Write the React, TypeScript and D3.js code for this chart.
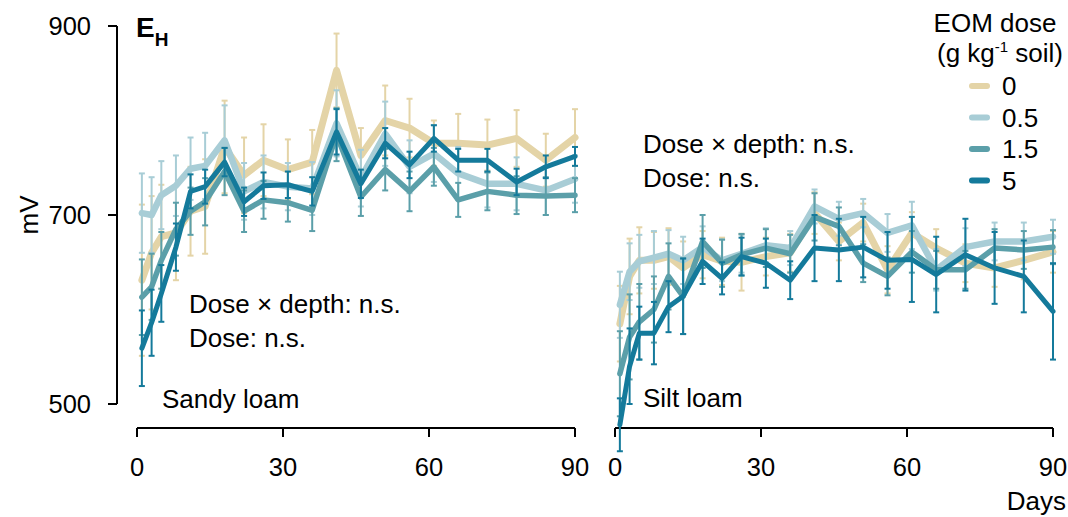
import React, { useEffect } from "react";
import * as d3 from "d3";

const days = [1, 3, 5, 8, 11, 14, 18, 22, 26, 31, 36, 41, 46, 51, 56, 61, 66, 72, 78, 84, 90];
const doses = ["0", "0.5", "1.5", "5"];
const colors = ["#e4d4a7", "#a8cdd6", "#5b9fa9", "#147a9b"];
const lineWidths = [7, 6.5, 5.5, 5];

// Sandy loam
const sandy0 = [631, 660, 677, 681, 704, 709, 772, 742, 758, 748, 756, 853, 763, 800, 792, 776, 776, 774, 781, 758, 782];
const sandy05 = [702, 700, 721, 731, 749, 752, 779, 725, 735, 730, 728, 797, 739, 786, 751, 765, 744, 733, 733, 726, 738];
const sandy15 = [613, 624, 652, 685, 704, 714, 746, 704, 716, 713, 705, 785, 719, 748, 725, 751, 716, 725, 721, 720, 721];
const sandy5 = [559, 586, 617, 666, 725, 730, 756, 714, 731, 732, 725, 788, 733, 776, 753, 781, 758, 758, 735, 751, 762];
const sandy0Err = [80, 60, 55, 50, 47, 50, 49, 40, 38, 32, 34, 39, 29, 37, 31, 24, 31, 27, 30, 28, 30];
const sandy05Err = [42, 40, 36, 32, 33, 35, 37, 30, 28, 25, 28, 35, 30, 34, 28, 30, 28, 25, 28, 26, 25];
const sandy15Err = [40, 35, 30, 28, 25, 25, 25, 22, 20, 20, 22, 28, 20, 22, 21, 20, 18, 20, 20, 20, 18];
const sandy5Err = [40, 35, 30, 25, 18, 18, 15, 15, 14, 14, 15, 24, 15, 16, 14, 14, 12, 12, 14, 12, 10];

// Silt loam
const silt0 = [585, 635, 652, 652, 656, 644, 658, 651, 650, 656, 660, 702, 672, 692, 642, 681, 665, 649, 644, 652, 661];
const silt05 = [605, 640, 651, 655, 659, 652, 666, 652, 659, 668, 665, 709, 696, 702, 681, 689, 642, 666, 672, 672, 677];
const silt15 = [532, 571, 587, 600, 635, 614, 672, 649, 658, 665, 659, 698, 688, 649, 635, 661, 642, 642, 665, 663, 666];
const silt5 = [478, 540, 575, 575, 603, 614, 651, 633, 656, 649, 631, 665, 663, 666, 652, 653, 637, 658, 644, 635, 598];
const silt0Err = [40, 40, 35, 30, 30, 28, 25, 25, 30, 20, 20, 22, 20, 20, 25, 22, 20, 20, 20, 20, 22];
const silt05Err = [35, 30, 28, 28, 25, 25, 22, 22, 20, 18, 18, 18, 18, 15, 20, 25, 22, 20, 20, 20, 18];
const silt15Err = [45, 45, 40, 35, 35, 40, 28, 25, 22, 20, 20, 25, 20, 20, 20, 22, 20, 20, 20, 20, 18];
const silt5Err = [28, 40, 28, 33, 27, 40, 24, 17, 20, 26, 20, 35, 33, 32, 30, 45, 40, 38, 38, 38, 51];

const xTicks = [0, 30, 60, 90];
const yTicks = [500, 700, 900];

const FONT = "'Liberation Sans', Arial, Helvetica, sans-serif";
const FS = 26;

type Panel = {
  name: string;
  means: number[][];
  errs: number[][];
  range: [number, number];
  labelX: number;
  labelY: number;
  statX: number;
  statY: number;
};

const panels: Panel[] = [
  {
    name: "Sandy loam",
    means: [sandy0, sandy05, sandy15, sandy5],
    errs: [sandy0Err, sandy05Err, sandy15Err, sandy5Err],
    range: [137, 575],
    labelX: 162,
    labelY: 408,
    statX: 189,
    statY: 313,
  },
  {
    name: "Silt loam",
    means: [silt0, silt05, silt15, silt5],
    errs: [silt0Err, silt05Err, silt15Err, silt5Err],
    range: [615, 1053],
    labelX: 643,
    labelY: 407,
    statX: 643,
    statY: 153,
  },
];

const y = d3.scaleLinear().domain([500, 900]).range([404, 26]);
const axisY = 428;

export default function App() {
  useEffect(() => {
    document.body.style.margin = "0";
  }, []);

  return (
    <svg width={1068} height={517} style={{ display: "block", fontFamily: FONT }}>
      <rect width={1068} height={517} fill="#fff" />
      {/* Y axis */}
      <line x1={117} x2={117} y1={y(900)} y2={y(500)} stroke="#000" strokeWidth={2} />
      {yTicks.map((t) => (
        <g key={t}>
          <line x1={108} x2={117} y1={y(t)} y2={y(t)} stroke="#000" strokeWidth={2} />
          <text x={91} y={y(t) + 9} textAnchor="end" fontSize={25.5}>
            {t}
          </text>
        </g>
      ))}
      <text transform="translate(38,215) rotate(-90)" textAnchor="middle" fontSize={FS}>
        mV
      </text>
      {/* Title */}
      <text x={136} y={37} fontSize={28} fontWeight="bold">
        E
        <tspan fontSize={19} dy={9}>
          H
        </tspan>
      </text>

      {panels.map((p, pi) => {
        const x = d3.scaleLinear().domain([0, 90]).range(p.range);
        const line = d3
          .line<number>()
          .x((_, i) => x(days[i]))
          .y((v) => y(v));
        return (
          <g key={pi}>
            {/* X axis */}
            <line x1={x(0)} x2={x(90)} y1={axisY} y2={axisY} stroke="#000" strokeWidth={2} />
            {xTicks.map((t) => (
              <g key={t}>
                <line x1={x(t)} x2={x(t)} y1={axisY} y2={axisY + 9} stroke="#000" strokeWidth={2} />
                <text x={x(t)} y={axisY + 48} textAnchor="middle" fontSize={25.5}>
                  {t}
                </text>
              </g>
            ))}
            {p.means.map((series, si) => (
              <g key={si}>
                {series.map((v, i) => {
                  const e = p.errs[si][i];
                  const cx = x(days[i]);
                  return (
                    <g key={i} stroke={colors[si]} strokeWidth={2}>
                      <line x1={cx} x2={cx} y1={y(v - e)} y2={y(v + e)} />
                      <line x1={cx - 3} x2={cx + 3} y1={y(v - e)} y2={y(v - e)} />
                      <line x1={cx - 3} x2={cx + 3} y1={y(v + e)} y2={y(v + e)} />
                    </g>
                  );
                })}
                <path
                  d={line(series) || ""}
                  fill="none"
                  stroke={colors[si]}
                  strokeWidth={lineWidths[si]}
                  strokeLinejoin="round"
                  strokeLinecap="round"
                />
              </g>
            ))}
            <text x={p.labelX} y={p.labelY} fontSize={FS}>
              {p.name}
            </text>
            <text x={p.statX} y={p.statY} fontSize={FS}>
              Dose × depth: n.s.
            </text>
            <text x={p.statX} y={p.statY + 34} fontSize={FS}>
              Dose: n.s.
            </text>
          </g>
        );
      })}

      {/* Days label */}
      <text x={1066} y={510} textAnchor="end" fontSize={FS}>
        Days
      </text>

      {/* Legend */}
      <text x={995} y={32} textAnchor="middle" fontSize={FS}>
        EOM dose
      </text>
      <text x={1000} y={62} textAnchor="middle" fontSize={FS}>
        (g kg
        <tspan fontSize={15} dy={-10}>
          -1
        </tspan>
        <tspan dy={10}> soil)</tspan>
      </text>
      {doses.map((d, i) => {
        const ly = 86 + i * 31.5;
        return (
          <g key={d}>
            <line x1={972} x2={987} y1={ly} y2={ly} stroke={colors[i]} strokeWidth={6} strokeLinecap="round" />
            <text x={1002} y={ly + 9} fontSize={FS}>
              {d}
            </text>
          </g>
        );
      })}
    </svg>
  );
}
